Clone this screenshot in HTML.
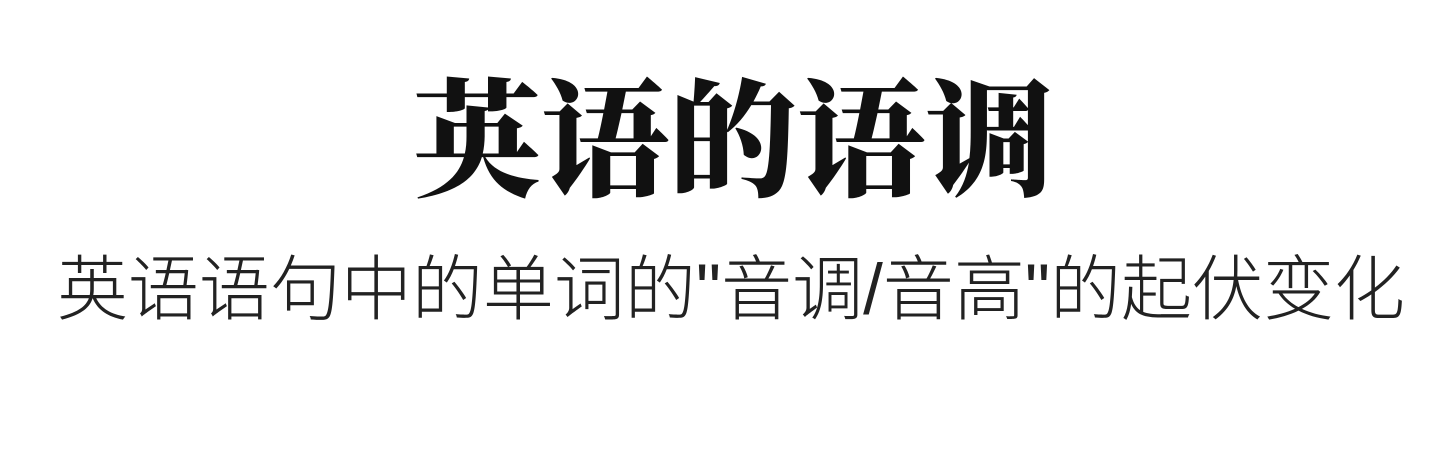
<!DOCTYPE html>
<html><head><meta charset="utf-8"><style>
html,body{margin:0;padding:0;background:#fff;}
body{width:1453px;height:476px;position:relative;overflow:hidden;}
#title{position:absolute;left:0;width:1466px;top:68px;text-align:center;font-family:"Liberation Serif","Noto Serif CJK SC",serif;font-weight:900;font-size:128px;line-height:150px;color:#111;}
#sub{position:absolute;left:0;width:1462px;top:248px;text-align:center;font-family:"Liberation Sans","Noto Sans CJK SC",sans-serif;font-weight:300;font-size:71px;line-height:86px;color:#222;}
</style></head><body>
<div id="title">英语的语调</div>
<div id="sub">英语语句中的单词的"音调/音高"的起伏变化</div>
</body></html>
